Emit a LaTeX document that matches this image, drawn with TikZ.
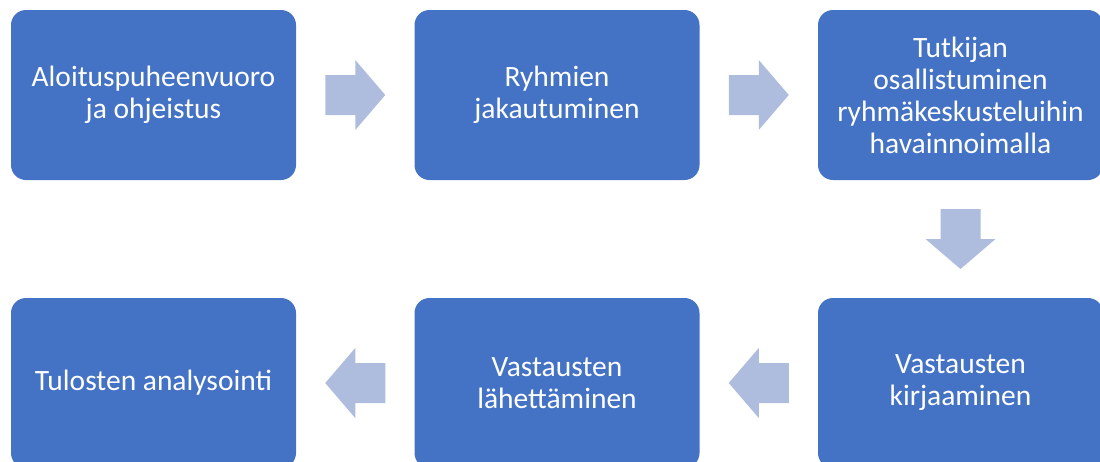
\documentclass[tikz,border=0pt]{standalone}
\usepackage{fontspec}
\setmainfont{Carlito}
\usetikzlibrary{calc}
\definecolor{boxblue}{RGB}{68,114,196}
\definecolor{arrowblue}{RGB}{174,188,222}
\tikzset{
  stepbox/.style={rounded corners=15pt, minimum width=285pt, minimum height=170pt,
    fill=boxblue, text=white, align=center, inner sep=0pt,
    font=\fontsize{29.5}{32}\selectfont},
  % block arrow pointing along +x, centred on the pic's origin
  blockarrow/.pic={
    \fill[arrowblue] (-30,-20) -- (0,-20) -- (0,-35) -- (30,0) -- (0,35) -- (0,20) -- (-30,20) -- cycle;
  }
}
\begin{document}
\begin{tikzpicture}[x=1pt,y=-1pt]
\useasboundingbox (0,0) rectangle (1100,461);
\clip (0,0) rectangle (1100,461);
% process steps
\node[stepbox] (b1) at (153.5,95) {Aloituspuheenvuoro\\ja ohjeistus};
\node[stepbox] (b2) at (557,95) {Ryhmien\\jakautuminen};
\node[stepbox] (b3) at (960.5,95) {Tutkijan\\osallistuminen\\ryhmäkeskusteluihin\\havainnoimalla};
\node[stepbox] (b6) at (960.5,383) {Vastausten\\kirjaaminen};
\node[stepbox] (b5) at (557,383) {Vastausten\\lähettäminen};
\node[stepbox] (b4) at (153.5,383) {Tulosten analysointi};
% block arrows between the steps
\coordinate (a1) at ($(b1.east)!0.5!(b2.west)$);
\coordinate (a2) at ($(b2.east)!0.5!(b3.west)$);
\coordinate (a3) at ($(b3.south)!0.5!(b6.north)$);
\coordinate (a4) at ($(b6.west)!0.5!(b5.east)$);
\coordinate (a5) at ($(b5.west)!0.5!(b4.east)$);
\pic at (a1) {blockarrow};
\pic at (a2) {blockarrow};
\pic[rotate=-90] at (a3) {blockarrow};
\pic[rotate=180] at (a4) {blockarrow};
\pic[rotate=180] at (a5) {blockarrow};
\end{tikzpicture}
\end{document}
